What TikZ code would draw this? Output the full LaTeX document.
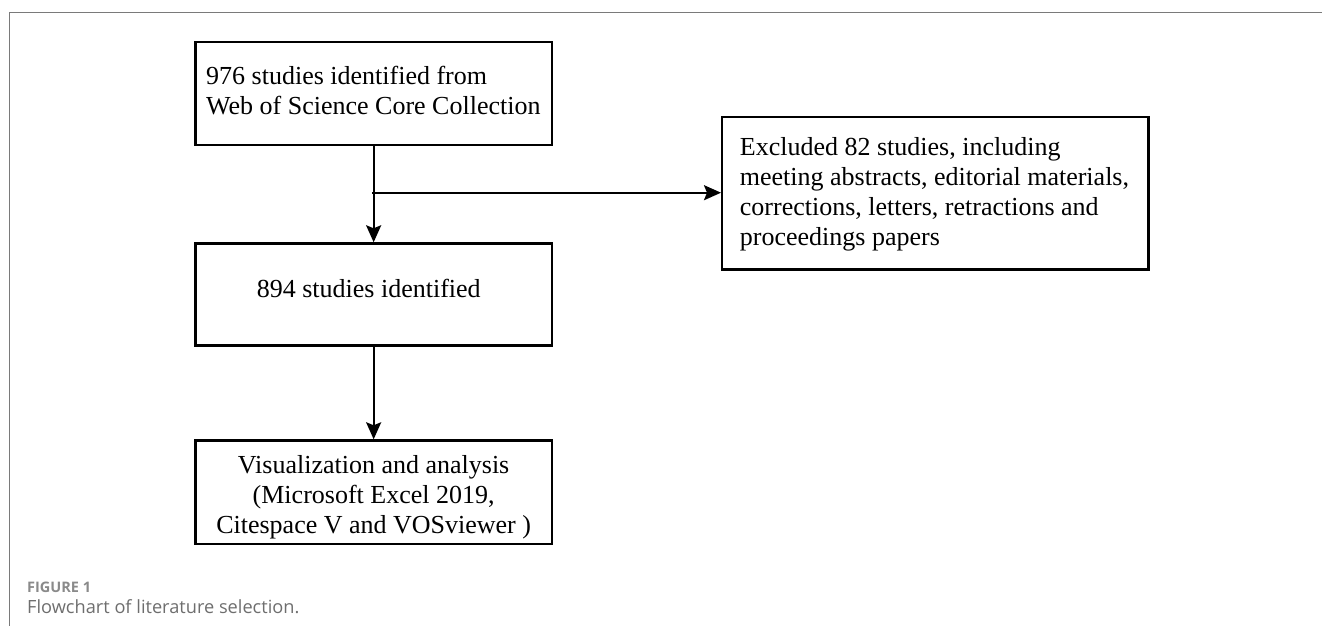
\documentclass[tikz,border=0pt]{standalone}
\usepackage{fontspec}
\setmainfont{Liberation Serif}
\newfontfamily\capfont{Open Sans}
\usetikzlibrary{arrows.meta}
\definecolor{framegray}{HTML}{7A7A7A}
\definecolor{labelgray}{HTML}{8A8A8A}
\definecolor{capgray}{HTML}{6E6E6E}
\newcommand\leftlines[3]{\hbox to #1{\hskip#2\vtop{\halign{##\hfil\cr#3\crcr}}\hss}}
\newcommand\centerlines[3]{\hbox to #1{\hss\vtop{\halign{\hfil##\hfil\cr#3\crcr}}\hss\hskip#2}}
\begin{document}
\begin{tikzpicture}[x=1pt,y=-1pt,
  boxstyle/.style={draw, line width=2.4pt, inner sep=0pt, anchor=north west,
    font=\fontsize{26}{30.2}\selectfont},
  flowarrow/.style={line width=2.1pt, -{Stealth[length=17pt,width=15pt,inset=3pt]}},
  caplabel/.style={anchor=base west, inner sep=0pt, text=labelgray,
    font=\capfont\bfseries\fontsize{14.5}{16}\selectfont},
  captext/.style={anchor=base west, inner sep=0pt, text=capgray,
    font=\capfont\fontsize{18.2}{20}\selectfont}]
\useasboundingbox (0,0) rectangle (1322,626);
% frame
\draw[framegray, line width=1.2pt] (9.3,626) -- (9.3,12.7) -- (1322,12.7);
% boxes
\node[boxstyle, text height=42pt, text depth=61pt] (b1) at (194.4,41)
  {\leftlines{356.1pt}{10.6pt}{976 studies identified from\cr Web of Science Core Collection}};
\node[boxstyle, text height=54.4pt, text depth=47.6pt] (b2) at (194.4,242.3)
  {\centerlines{356.1pt}{9.8pt}{894 studies identified}};
\node[boxstyle, text height=33pt, text depth=70.4pt] (b3) at (194.4,439.3)
  {\centerlines{356.1pt}{0pt}{Visualization and analysis\cr (Microsoft Excel 2019,\cr Citespace V and VOSviewer )}};
\node[boxstyle, text height=38.3pt, text depth=114.3pt] (b4) at (721,115.7)
  {\leftlines{426.4pt}{17.7pt}{Excluded 82 studies, including\cr meeting abstracts, editorial materials,\cr corrections, letters, retractions and\cr proceedings papers}};
% connectors
\coordinate (j) at (372.45,192.7);
\draw[flowarrow] (b1.south) -- (b2.north);
\draw[flowarrow] (j) -- (j -| b4.west);
\draw[flowarrow] (b2.south) -- (b3.north);
% caption
\node[caplabel] (figlabel) at (27,592) {FIGURE 1};
\node[captext] (figcap) at (27,613.5) {Flowchart of literature selection.};
\end{tikzpicture}
\end{document}
